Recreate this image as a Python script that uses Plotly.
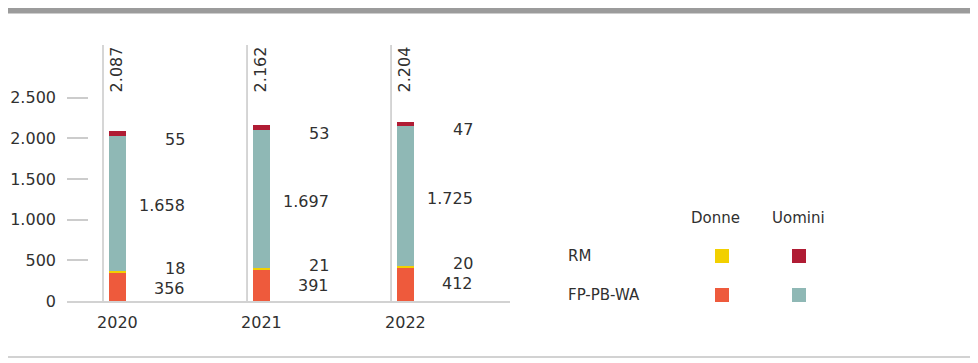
import plotly.graph_objects as go

years = ["2020", "2021", "2022"]
fp_donne = [356, 391, 412]
rm_donne = [18, 21, 20]
fp_uomini = [1658, 1697, 1725]
rm_uomini = [55, 53, 47]
totals = [2087, 2162, 2204]
ytick_vals = [0, 500, 1000, 1500, 2000, 2500]

C_FP_D = "#EE5A3C"
C_RM_D = "#F2D000"
C_FP_U = "#8FB8B5"
C_RM_U = "#B01C34"
TXT = "#303030"
FONT = "DejaVu Sans"
FS = 16

# page body has an 8px margin; work in screen pixels and shift
OFF = 8
W, H = 978 - OFF, 363 - OFF
L = 67 - OFF          # plot left at screen x=67
T = 45 - OFF          # plot top at screen y=45
B = H - (301 - OFF)   # plot bottom at screen y=301
PW = W - L
PH = H - T - B


def px(x):
    return (x - OFF - L) / PW


def py(y):
    return (H - B - (y - OFF)) / PH


xs = list(range(len(years)))
fig = go.Figure()
series = [
    ("FP-PB-WA Donne", fp_donne, C_FP_D),
    ("RM Donne", rm_donne, C_RM_D),
    ("FP-PB-WA Uomini", fp_uomini, C_FP_U),
    ("RM Uomini", rm_uomini, C_RM_U),
]
for name, vals, col in series:
    fig.add_trace(go.Bar(x=xs, y=vals, name=name, marker=dict(color=col, line=dict(width=0)),
                         width=0.118, hoverinfo="y+name"))


def fmt(v):
    return f"{v:,}".replace(",", ".")


shapes = []
annos = []
for i in xs:
    shapes.append(dict(type="line", xref="x", yref="paper", x0=i - 0.1, x1=i - 0.1, y0=0, y1=1,
                       line=dict(color="#c8c8c8", width=1.5), layer="below"))
    annos.append(dict(x=i, y=2855, xref="x", yref="y", text=fmt(totals[i]),
                      textangle=-90, showarrow=False, xanchor="center", yanchor="middle",
                      font=dict(size=FS, color=TXT, family=FONT)))
    lx = i + 0.48
    base_u = fp_donne[i] + rm_donne[i]
    labels = [
        (fp_donne[i], fp_donne[i] - 200),
        (rm_donne[i], fp_donne[i] + 50),
        (fp_uomini[i], base_u + fp_uomini[i] / 2 - 30),
        (rm_uomini[i], totals[i] - 95),
    ]
    for v, yy in labels:
        annos.append(dict(x=lx, y=yy, xref="x", yref="y", text=fmt(v),
                          showarrow=False, xanchor="right", yanchor="middle",
                          font=dict(size=FS, color=TXT, family=FONT)))

# top bar and bottom line
shapes.append(dict(type="rect", xref="paper", yref="paper", x0=px(5), x1=px(990), y0=py(13.5), y1=py(8),
                   fillcolor="#9b9b9b", line=dict(width=0)))
shapes.append(dict(type="line", xref="paper", yref="paper", x0=px(5), x1=px(990), y0=py(357), y1=py(357),
                   line=dict(color="#d2d2d2", width=2)))

# legend table
LF = dict(size=15, color=TXT, family=FONT)
annos.append(dict(x=px(715), y=py(218), xref="paper", yref="paper", text="Donne", showarrow=False,
                  xanchor="center", yanchor="middle", font=LF))
annos.append(dict(x=px(798), y=py(218), xref="paper", yref="paper", text="Uomini", showarrow=False,
                  xanchor="center", yanchor="middle", font=LF))
annos.append(dict(x=px(566), y=py(256), xref="paper", yref="paper", text="RM", showarrow=False,
                  xanchor="left", yanchor="middle", font=LF))
annos.append(dict(x=px(566), y=py(295), xref="paper", yref="paper", text="FP-PB-WA", showarrow=False,
                  xanchor="left", yanchor="middle", font=LF))
for cx, cy, col in [(722, 256, C_RM_D), (799, 256, C_RM_U), (722, 295, C_FP_D), (799, 295, C_FP_U)]:
    shapes.append(dict(type="rect", xref="paper", yref="paper", x0=px(cx - 7), x1=px(cx + 7),
                       y0=py(cy + 7), y1=py(cy - 7), fillcolor=col, line=dict(width=0)))

fig.update_layout(
    barmode="stack",
    width=W, height=H,
    margin=dict(l=L, r=0, t=T, b=B),
    plot_bgcolor="white", paper_bgcolor="white",
    separators=",.",
    showlegend=False,
    shapes=shapes,
    annotations=annos,
    font=dict(family=FONT, color=TXT, size=FS),
    xaxis=dict(domain=[0, (510 - 67) / PW], range=[-0.35, 2.726], tickvals=xs, ticktext=years,
               showgrid=False, zeroline=False, showline=True, linecolor="#d2d2d2", linewidth=2,
               ticks="", ticklabelstandoff=6, tickfont=dict(size=FS, color=TXT, family=FONT)),
    yaxis=dict(range=[0, 3150], tickvals=ytick_vals, tickformat=",d", showgrid=False, zeroline=False,
               showline=False, ticks="inside", ticklen=21, tickcolor="#cccccc", tickwidth=1.5,
               ticklabelstandoff=10, tickfont=dict(size=FS, color=TXT, family=FONT)),
)

fig.write_html("out.html")
